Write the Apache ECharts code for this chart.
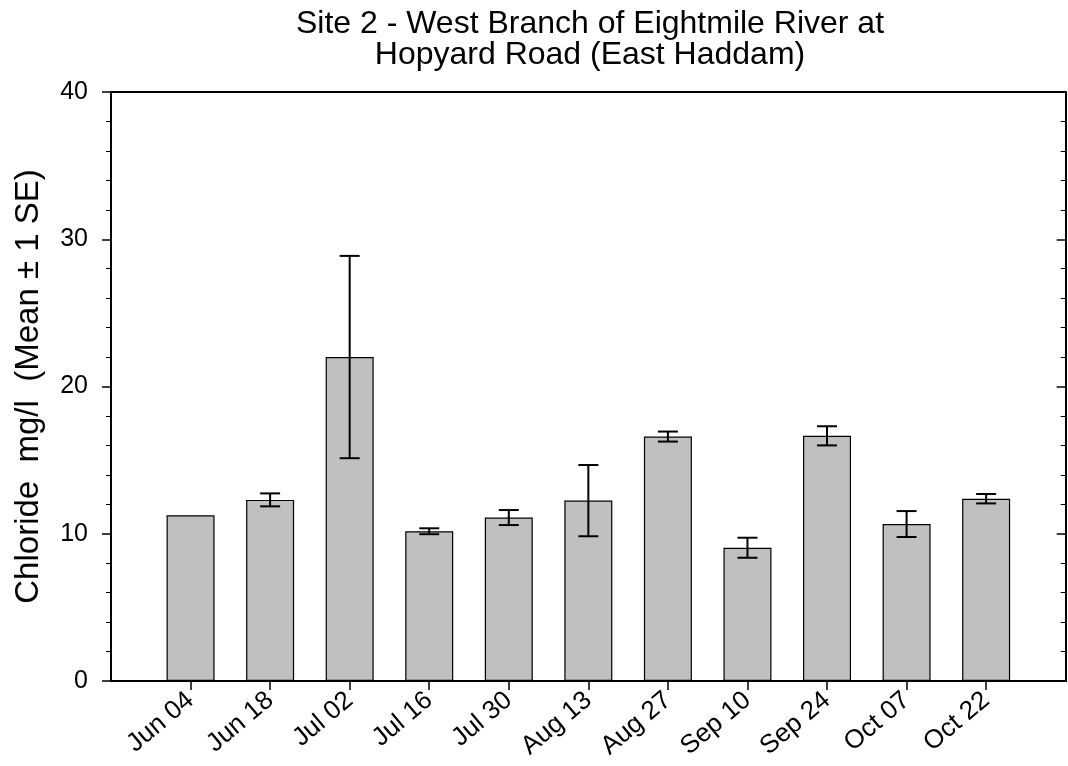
<!DOCTYPE html>
<html>
<head>
<meta charset="utf-8">
<style>
  html, body { margin: 0; padding: 0; background: #fff; }
  #chart { width: 1068px; height: 766px; }
</style>
<script src="https://cdn.jsdelivr.net/npm/echarts@6/dist/echarts.min.js"></script>
</head>
<body>
<div id="chart"></div>
<script>
// Sampling dates
const categories = ['Jun 04', 'Jun 18', 'Jul 02', 'Jul 16', 'Jul 30', 'Aug 13', 'Aug 27', 'Sep 10', 'Sep 24', 'Oct 07', 'Oct 22'];
// Mean chloride (mg/l) per date
const means = [11.25, 12.3, 22.0, 10.17, 11.1, 12.25, 16.6, 9.05, 16.65, 10.66, 12.38];
// Standard error per date (null = single sample, no bar)
const stdErrors = [null, 0.44, 6.87, 0.2, 0.51, 2.42, 0.34, 0.68, 0.65, 0.88, 0.32];
// Y axis range
const yMin = 0, yMax = 40, yStep = 10;

const FONT = 'Liberation Sans, Arial, sans-serif';

// Pad the category axis with an empty slot at each end so the dates sit inside the frame
const axisCats = [''].concat(categories, ['']);
const barData = [null].concat(means, [null]);
const errData = [];
categories.forEach((c, i) => {
  if (stdErrors[i] != null) {
    errData.push([i + 1, means[i] - stdErrors[i], means[i] + stdErrors[i]]);
  }
});

const chart = echarts.init(document.getElementById('chart'), null, { renderer: 'canvas' });

const yCommon = {
  type: 'value', min: yMin, max: yMax, interval: yStep,
  splitLine: { show: false },
  axisLine: { show: true, lineStyle: { color: '#000', width: 2 } },
  minorTick: { show: true, splitNumber: 5, length: 5, lineStyle: { color: '#000', width: 1 } },
  minorSplitLine: { show: false }
};

chart.setOption({
  animation: false,
  backgroundColor: '#fff',
  title: {
    text: 'Site 2 - West Branch of Eightmile River at\nHopyard Road (East Haddam)',
    left: 585, top: 4, textAlign: 'center',
    textStyle: { fontFamily: FONT, fontSize: 32, fontWeight: 'normal', color: '#000', lineHeight: 31 }
  },
  grid: { left: 111, right: 2, top: 92, bottom: 85, containLabel: false },
  xAxis: [{
    type: 'category', data: axisCats, boundaryGap: false, position: 'bottom',
    axisLine: { show: true, onZero: false, lineStyle: { color: '#000', width: 2 } },
    axisTick: { show: true, length: 9, lineStyle: { color: '#000', width: 1.5 },
      interval: (idx, val) => val !== '' },
    axisLabel: { interval: 0, rotate: 40, margin: 16, color: '#000',
      fontFamily: FONT, fontSize: 26 },
    splitLine: { show: false }
  }, {
    type: 'category', data: axisCats, boundaryGap: false, position: 'top',
    axisLine: { show: true, onZero: false, lineStyle: { color: '#000', width: 2 } },
    axisTick: { show: false }, axisLabel: { show: false }, splitLine: { show: false }
  }],
  yAxis: [Object.assign({}, yCommon, {
    position: 'left',
    name: 'Chloride  mg/l  (Mean \u00B1 1 SE)',
    nameLocation: 'middle', nameGap: 66,
    nameTextStyle: { fontFamily: FONT, fontSize: 33, color: '#000' },
    axisTick: { show: true, length: 9, lineStyle: { color: '#000', width: 1.5 } },
    axisLabel: { margin: 23, color: '#000', fontFamily: FONT, fontSize: 25 }
  }), Object.assign({}, yCommon, {
    position: 'right',
    axisTick: { show: true, inside: true, length: 9, lineStyle: { color: '#000', width: 1.5 } },
    minorTick: { show: true, splitNumber: 5, length: 5, lineStyle: { color: '#000', width: 1 } },
    axisLabel: { show: false }
  })],
  series: [{
    type: 'bar', data: barData, barWidth: 48, xAxisIndex: 0, yAxisIndex: 0,
    itemStyle: { color: '#c0c0c0', borderColor: '#000', borderWidth: 1.2 },
    z: 2
  }, {
    type: 'custom', data: errData, xAxisIndex: 0, yAxisIndex: 0, z: 3,
    encode: { x: 0, y: [1, 2] },
    renderItem: function (params, api) {
      const x = api.value(0);
      const lo = api.coord([x, api.value(1)]);
      const hi = api.coord([x, api.value(2)]);
      const half = 10;
      const style = { stroke: '#000', lineWidth: 2 };
      return {
        type: 'group',
        children: [
          { type: 'line', shape: { x1: hi[0], y1: hi[1], x2: lo[0], y2: lo[1] }, style: style },
          { type: 'line', shape: { x1: hi[0] - half, y1: hi[1], x2: hi[0] + half, y2: hi[1] }, style: style },
          { type: 'line', shape: { x1: lo[0] - half, y1: lo[1], x2: lo[0] + half, y2: lo[1] }, style: style }
        ]
      };
    }
  }]
});
</script>
</body>
</html>
